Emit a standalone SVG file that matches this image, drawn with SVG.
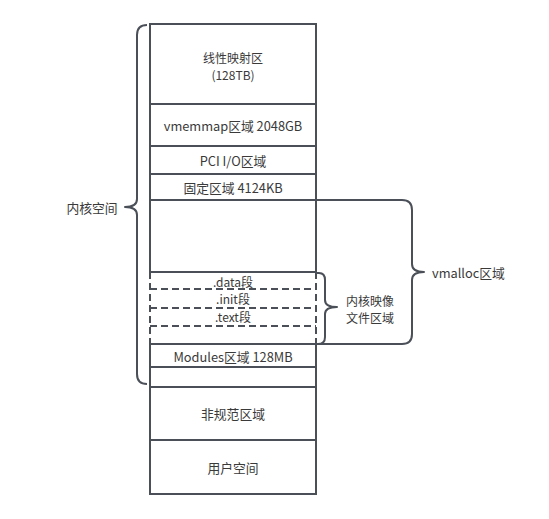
<svg xmlns="http://www.w3.org/2000/svg" width="549" height="519" viewBox="0 0 549 519">
<style>
.box{fill:#fff;stroke:#4b5058;stroke-width:2}
.ln{fill:none;stroke:#4b5058;stroke-width:2}
.dash{fill:none;stroke:#4b5058;stroke-width:2;stroke-dasharray:7 4}
.br{fill:none;stroke:#4b5058;stroke-width:2;stroke-linejoin:round}
text{font-family:"Noto Sans CJK SC","Microsoft YaHei","Noto Sans",sans-serif;font-size:12.8px;fill:#3a3a3a;text-anchor:middle;dominant-baseline:central}
.s{font-size:12px}
.l{text-anchor:start}
</style>
<rect width="549" height="519" fill="#fff"/>
<g id="linear"><rect class="box" x="150" y="24" width="166" height="80"/><text class="s" x="233" y="57">线性映射区</text><text class="s" x="233" y="74">(128TB)</text></g>
<g id="vmemmap"><rect class="box" x="150" y="104" width="166" height="42"/><line class="ln" x1="150" y1="104" x2="316" y2="104" stroke-width="3"/><text x="233" y="125">vmemmap区域 2048GB</text></g>
<g id="pci"><rect class="box" x="150" y="146" width="166" height="28"/><text x="233" y="160">PCI I/O区域</text></g>
<g id="fixed"><rect class="box" x="150" y="174" width="166" height="26"/><text x="233" y="187">固定区域 4124KB</text></g>
<g id="vmalloc-space"><rect class="box" x="150" y="200" width="166" height="72"/></g>
<g id="kernel-image">
<line class="ln" x1="150" y1="272" x2="316" y2="272"/>
<line class="dash" x1="150" y1="272" x2="150" y2="344"/>
<line class="dash" x1="316" y1="272" x2="316" y2="344"/>
<line class="dash" x1="150" y1="289" x2="316" y2="289"/>
<line class="dash" x1="150" y1="308" x2="316" y2="308"/>
<line class="dash" x1="150" y1="326" x2="316" y2="326"/>
<text class="s" x="233" y="281">.data段</text>
<text class="s" x="233" y="298">.init段</text>
<text class="s" x="233" y="316">.text段</text>
</g>
<g id="modules"><rect class="box" x="150" y="344" width="166" height="23"/><text x="233" y="356">Modules区域 128MB</text></g>
<g id="gap"><rect class="box" x="150" y="367" width="166" height="20"/></g>
<g id="noncanonical"><rect class="box" x="150" y="387" width="166" height="53"/><text x="233" y="413">非规范区域</text></g>
<g id="user"><rect class="box" x="150" y="440" width="166" height="54"/><text x="233" y="467">用户空间</text></g>
<g id="connectors">
<path class="br" d="M147,25 Q137,25 137,35 L137,199 Q137,207 125,207 Q137,207 137,215 L137,374 Q137,384 147,384"/>
<path class="br" d="M316,200 L402,200 Q412,200 412,210 L412,264 Q412,272 424,272 Q412,272 412,280 L412,334 Q412,344 402,344 L316,344"/>
<path class="br" d="M316,273 L319,273 Q325,273 325,280 L325,300 Q325,307 337,307 Q325,307 325,314 L325,337 Q325,344 318,344"/>
</g>
<g id="labels">
<text x="92" y="207">内核空间</text>
<text class="l" x="432" y="272">vmalloc区域</text>
<text class="s" x="370" y="300">内核映像</text>
<text class="s" x="370" y="317">文件区域</text>
</g>
</svg>
